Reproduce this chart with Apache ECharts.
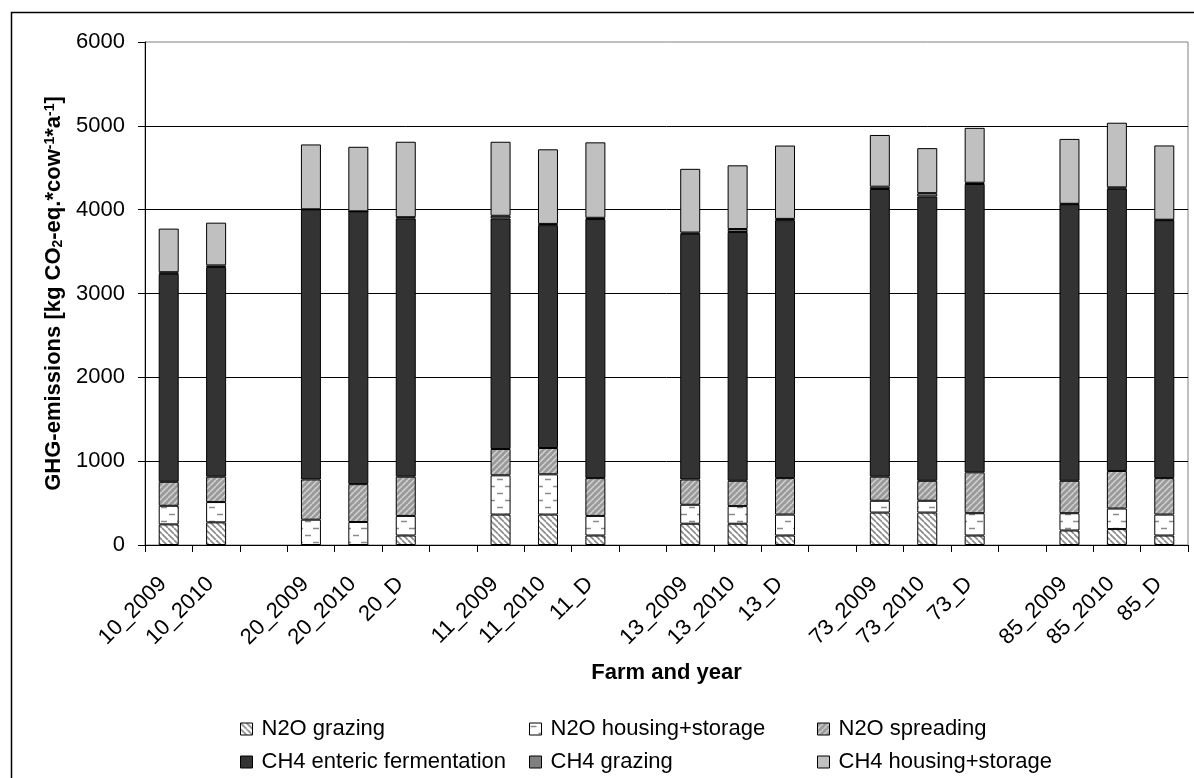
<!DOCTYPE html>
<html><head><meta charset="utf-8">
<script src="https://cdn.jsdelivr.net/npm/echarts@6/dist/echarts.min.js"></script>
<style>html,body{margin:0;padding:0;background:#fff}#c{width:1194px;height:778px}</style>
</head><body><div id="c"></div>
<script>
// Categories (blank entries are the gaps between farms)
const categories = ['10_2009','10_2010',' ','20_2009','20_2010','20_D','  ','11_2009','11_2010','11_D','   ','13_2009','13_2010','13_D','    ','73_2009','73_2010','73_D','     ','85_2009','85_2010','85_D'];
// Series values, kg CO2-eq per cow and year
const n2oGrazing      = [246, 270, null,    0,    0,  113, null,  363,  363,  113, null,  254,  254,  113, null,  387,  387,  113, null,  173,  190,  113];
const n2oHousing      = [222, 242, null,  302,  274,  234, null,  468,  480,  234, null,  226,  210,  250, null,  141,  141,  266, null,  206,  245,  250];
const n2oSpreading    = [286, 303, null,  480,  452,  468, null,  314,  314,  451, null,  302,  302,  435, null,  287,  238,  488, null,  387,  448,  435];
const ch4Enteric      = [2480,2500,null, 3222, 3254, 3080, null, 2750, 2658, 3090, null, 2930, 2968, 3077, null, 3431, 3391, 3439, null, 3299, 3368, 3077];
const ch4Grazing      = [20,   20, null,    0,    0,   15, null,   32,   15,   15, null,   15,   35,   15, null,   28,   40,   15, null,    5,   15,    5];
const ch4Housing      = [520, 510, null,  774,  770,  900, null,  883,  890,  900, null,  760,  760,  875, null,  617,  537,  655, null,  774,  771,  886];
const seriesNames = ['N2O grazing','N2O housing+storage','N2O spreading','CH4 enteric fermentation','CH4 grazing','CH4 housing+storage'];
const yMin = 0, yMax = 6000, yStep = 1000;

const FONT = '"Liberation Sans", Arial, sans-serif';

function makePattern(w, h, bg, draw) {
  const c = document.createElement('canvas');
  c.width = w; c.height = h;
  const x = c.getContext('2d');
  x.fillStyle = bg; x.fillRect(0, 0, w, h);
  draw(x);
  return { image: c, repeat: 'repeat' };
}
const patGrazing = makePattern(6, 6, '#ffffff', x => {
  x.strokeStyle = '#8a8a8a'; x.lineWidth = 1.6; x.beginPath();
  [-6, 0, 6].forEach(k => { x.moveTo(k, 0); x.lineTo(k + 6, 6); });
  x.stroke();
});
const patSpreading = makePattern(6, 6, '#9a9a9a', x => {
  x.strokeStyle = '#d4d4d4'; x.lineWidth = 1.4; x.beginPath();
  [0, 6, 12].forEach(k => { x.moveTo(k, 0); x.lineTo(k - 6, 6); });
  x.stroke();
});
const patHousing = makePattern(16, 14, '#ffffff', x => {
  x.strokeStyle = '#8c8c8c'; x.lineWidth = 1.6; x.beginPath();
  x.moveTo(1, 3.5); x.lineTo(7, 3.5);
  x.moveTo(9, 10.5); x.lineTo(15, 10.5);
  x.stroke();
});
const fills = [patGrazing, patHousing, patSpreading, '#333333', '#808080', '#c0c0c0'];
const values = [n2oGrazing, n2oHousing, n2oSpreading, ch4Enteric, ch4Grazing, ch4Housing];

// legend placement: 3 columns x 2 rows
const legendLeft = [240, 529, 817, 240, 529, 817];
const legendTop  = [717, 717, 717, 750, 750, 750];

const chart = echarts.init(document.getElementById('c'), null, { renderer: 'canvas' });
chart.setOption({
  animation: false,
  backgroundColor: '#fff',
  graphic: [{ type: 'rect', left: 9, top: 10, shape: { width: 1250, height: 850 }, style: { fill: 'none', stroke: '#000', lineWidth: 1.5 }, silent: true }],
  grid: { left: 145, right: 6, top: 42, bottom: 233, show: true, borderColor: '#808080', borderWidth: 1, backgroundColor: '#fff' },
  legend: seriesNames.map((nm, i) => ({
    left: legendLeft[i], top: legendTop[i], data: [nm],
    itemWidth: 12, itemHeight: 12, icon: 'rect', padding: 0,
    itemStyle: { borderColor: '#000', borderWidth: 1 },
    textStyle: { fontFamily: FONT, fontSize: 22, color: '#000', lineHeight: 24, padding: [0, 0, 0, 4] },
    selectedMode: false
  })),
  xAxis: {
    type: 'category', data: categories,
    name: 'Farm and year', nameLocation: 'middle', nameGap: 117,
    nameTextStyle: { fontFamily: FONT, fontSize: 22, fontWeight: 'bold', color: '#000' },
    axisLine: { lineStyle: { color: '#000', width: 1 } },
    axisTick: { show: true, interval: 0, length: 7, alignWithLabel: false, lineStyle: { color: '#000' } },
    axisLabel: { interval: 0, rotate: 45, margin: 30, padding: [0, 8, 0, 0], fontFamily: FONT, fontSize: 22, color: '#000' }
  },
  yAxis: {
    type: 'value', min: yMin, max: yMax, interval: yStep,
    name: 'GHG-emissions [kg CO{sub|2}-eq.*cow{sup|-1}*a{sup|-1}]',
    nameLocation: 'middle', nameRotate: 90, nameGap: 80,
    nameTextStyle: {
      fontFamily: FONT, fontSize: 22, fontWeight: 'bold', color: '#000',
      rich: {
        sub: { fontFamily: FONT, fontSize: 14, fontWeight: 'bold', color: '#000', verticalAlign: 'bottom' },
        sup: { fontFamily: FONT, fontSize: 14, fontWeight: 'bold', color: '#000', verticalAlign: 'top' }
      }
    },
    axisLine: { show: true, lineStyle: { color: '#000', width: 1 } },
    axisTick: { show: true, length: 7, lineStyle: { color: '#000' } },
    axisLabel: { margin: 20, fontFamily: FONT, fontSize: 22, color: '#000', formatter: v => String(v) },
    splitLine: { show: true, showMaxLine: false, lineStyle: { color: '#000', width: 1 } }
  },
  series: seriesNames.map((nm, i) => ({
    name: nm, type: 'bar', stack: 'total', barWidth: 20,
    data: values[i],
    itemStyle: { color: fills[i], borderColor: '#000', borderWidth: 1 },
    emphasis: { disabled: true }
  }))
});
</script>
</body></html>
